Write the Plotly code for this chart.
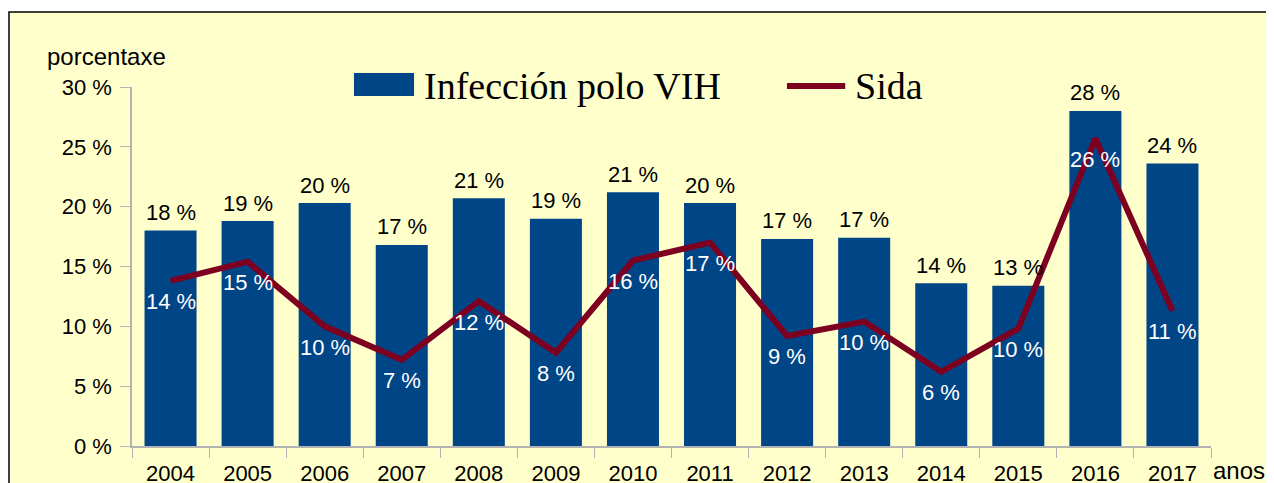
import plotly.graph_objects as go

years = ["2004", "2005", "2006", "2007", "2008", "2009", "2010",
         "2011", "2012", "2013", "2014", "2015", "2016", "2017"]
vih = [18.0, 18.8, 20.3, 16.8, 20.7, 19.0, 21.2, 20.3, 17.3, 17.4, 13.6, 13.4, 28.0, 23.6]
sida = [13.8, 15.4, 10.0, 7.2, 12.1, 7.8, 15.5, 17.0, 9.2, 10.4, 6.2, 9.8, 25.7, 11.3]
y_ticks = [0, 5, 10, 15, 20, 25, 30]

BLUE = "#004586"
RED = "#7e0021"
BG = "#ffffcc"
AXIS = "#b3b3b3"
SANS = "Liberation Sans, Arial, sans-serif"
SERIF = "Liberation Serif, Times New Roman, serif"
FS = 22

fig = go.Figure()
fig.add_trace(go.Bar(name="Infección polo VIH", x=years, y=vih,
                     marker=dict(color=BLUE, line=dict(width=0))))
fig.add_trace(go.Scatter(name="Sida", x=years, y=sida, mode="lines",
                         line=dict(color=RED, width=6)))

# value labels (x given as category index)
for i, v in enumerate(vih):
    fig.add_annotation(x=i, y=v, text=f"{round(v)} %", showarrow=False,
                       yshift=18, font=dict(family=SANS, size=FS, color="#000000"))
for i, v in enumerate(sida):
    fig.add_annotation(x=i, y=v, text=f"{round(v)} %", showarrow=False,
                       yshift=-21, font=dict(family=SANS, size=FS, color="#ffffff"))

# axis titles
fig.add_annotation(xref="paper", yref="paper", x=-0.0806, y=1.0836,
                   text="porcentaxe", showarrow=False, xanchor="left", yanchor="middle",
                   font=dict(family=SANS, size=24, color="#000000"))
fig.add_annotation(xref="paper", yref="paper", x=1.0, y=0, yshift=-24, xshift=0,
                   text="anos", showarrow=False, xanchor="left", yanchor="middle",
                   font=dict(family=SANS, size=24, color="#000000"))

# legend drawn by hand
fig.add_shape(type="rect", xref="paper", yref="paper",
              x0=0.2057, x1=0.2614, y0=0.975, y1=1.039,
              fillcolor=BLUE, line=dict(width=0))
fig.add_annotation(xref="paper", yref="paper", x=0.2688, y=1.003,
                   text="Infección polo VIH", showarrow=False,
                   xanchor="left", yanchor="middle",
                   font=dict(family=SERIF, size=38, color="#000000"))
fig.add_shape(type="line", xref="paper", yref="paper",
              x0=0.607, x1=0.661, y0=1.003, y1=1.003,
              line=dict(color=RED, width=6))
fig.add_annotation(xref="paper", yref="paper", x=0.668, y=1.003,
                   text="Sida", showarrow=False,
                   xanchor="left", yanchor="middle",
                   font=dict(family=SERIF, size=38, color="#000000"))

# chart area frame (cut off at right and bottom)
fig.add_shape(type="rect", xref="paper", yref="paper",
              x0=-0.114, x1=1.3, y0=-0.5, y1=1.209, layer="below",
              fillcolor=BG, line=dict(color="#000000", width=1.5))

fig.update_layout(
    width=1274, height=483,
    margin=dict(l=124, r=71, t=79, b=45, autoexpand=False),
    paper_bgcolor="#ffffff",
    plot_bgcolor="rgba(0,0,0,0)",
    bargap=0.325,
    showlegend=False,
    xaxis=dict(type="category", showline=True, linecolor=AXIS, linewidth=1.5,
               ticks="outside", tickson="boundaries", ticklen=10, tickcolor=AXIS,
               tickangle=0, automargin=False, ticklabelstandoff=7,
               tickfont=dict(family=SANS, size=FS, color="#000000"),
               showgrid=False, zeroline=False),
    yaxis=dict(range=[0, 30], tickvals=y_ticks, ticktext=[f"{t} %" for t in y_ticks],
               showline=True, linecolor=AXIS, linewidth=1.5, automargin=False,
               ticks="outside", ticklen=10, tickcolor=AXIS, ticklabelstandoff=4,
               tickfont=dict(family=SANS, size=FS, color="#000000"),
               showgrid=False, zeroline=False),
)

fig.write_html("out.html")
